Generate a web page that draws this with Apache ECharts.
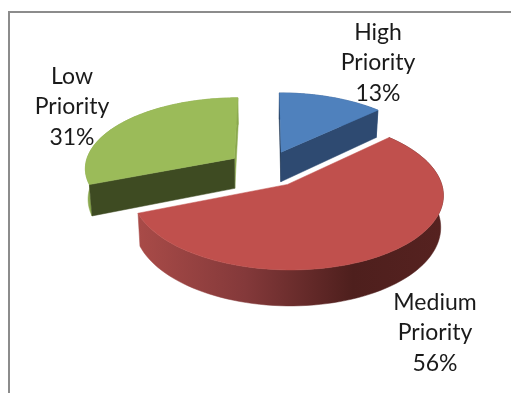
<!DOCTYPE html>
<html>
<head>
<meta charset="utf-8">
<style>html,body{margin:0;padding:0;background:#fff}#chart{width:511px;height:393px}</style>
<script src="https://cdn.jsdelivr.net/npm/echarts@6/dist/echarts.min.js"></script>
</head>
<body>
<div id="chart"></div>
<script>
// Task priority split, drawn as an exploded 3D pie
var categories = ['High Priority', 'Medium Priority', 'Low Priority'];
var shares = [13, 56, 31];
var topColors = ['#4f81bd', '#c0504d', '#9bbb59'];
var cutColors = ['#2e4a71', '#7a3230', '#3e4b22'];
var labelAnchors = [[378, 63], [435, 333], [72, 107]];

// Projection of the tilted disc onto the canvas
var view = { cx: 266, cy: 168.5, rx: 150, ry: 70.5, persp: 0.125, depth: 30.5, pull: 0.26, taper: 0.985 };

function project(X, Z, lower) {
  var d = 1 + view.persp * Z;
  return [
    view.cx + (view.rx * X / d) * (lower ? view.taper : 1),
    view.cy - view.ry * Z / d + (lower ? view.depth / d : 0)
  ];
}

function sliceGeometry(index) {
  var total = shares.reduce(function (a, b) { return a + b; }, 0);
  var before = shares.slice(0, index).reduce(function (a, b) { return a + b; }, 0);
  var start = before / total * Math.PI * 2;
  var end = (before + shares[index]) / total * Math.PI * 2;
  var mid = (start + end) / 2;
  var ox = Math.sin(mid) * view.pull, oz = Math.cos(mid) * view.pull;
  function rim(theta, lower) {
    return project(ox + Math.sin(theta), oz + Math.cos(theta), lower);
  }
  var upper = [], under = [], steps = 90;
  for (var i = 0; i <= steps; i++) {
    var t = start + (end - start) * i / steps;
    upper.push(rim(t, false));
    under.push(rim(t, true));
  }
  return {
    apexTop: project(ox, oz, false),
    apexLow: project(ox, oz, true),
    upper: upper,
    under: under
  };
}

function poly(points, fill) {
  return {
    type: 'polygon',
    shape: { points: points },
    style: { fill: fill, stroke: fill, lineWidth: 0.5 }
  };
}

function rimFill(index) {
  if (index === 1) {
    return {
      type: 'linear', global: true, x: 137, y: 0, x2: 445, y2: 0,
      colorStops: [
        { offset: 0, color: '#a94b48' },
        { offset: 0.35, color: '#84393a' },
        { offset: 0.7, color: '#4e1f1d' },
        { offset: 1, color: '#562220' }
      ]
    };
  }
  return index === 0 ? '#3a5f8f' : '#8aa84e';
}

function renderSlice(params, api) {
  var i = params.dataIndex;
  var g = sliceGeometry(i);
  var last = g.upper.length - 1;
  var children = [poly(g.upper.concat(g.under.slice().reverse()), rimFill(i))];
  // only the radial faces turned towards the viewer are drawn
  if (i === 0) {
    children.push(poly([g.apexTop, g.upper[0], g.under[0], g.apexLow], '#1f3550'));
    children.push(poly([g.apexTop, g.upper[last], g.under[last], g.apexLow], cutColors[0]));
  } else if (i === 2) {
    children.push(poly([g.apexTop, g.upper[last], g.under[last], g.apexLow], '#8aa84e'));
    children.push(poly([g.apexTop, g.upper[0], g.under[0], g.apexLow], cutColors[2]));
  }
  children.push(poly([g.apexTop].concat(g.upper), topColors[i]));
  var words = categories[i].split(' ');
  children.push({
    type: 'text',
    x: labelAnchors[i][0],
    y: labelAnchors[i][1],
    style: {
      text: words[0] + '\n' + words[1] + '\n' + api.value(1) + '%',
      font: '23px Lato',
      lineHeight: 30.5,
      fill: '#1a1a1a',
      align: 'center',
      verticalAlign: 'middle'
    }
  });
  return { type: 'group', children: children };
}

var chart = echarts.init(document.getElementById('chart'), null, { renderer: 'canvas' });
chart.setOption({
  animation: false,
  backgroundColor: '#ffffff',
  graphic: [
    // frame: only the top and left edges fall inside the canvas
    { type: 'rect', shape: { x: 9, y: 12, width: 600, height: 500 }, style: { fill: 'none', stroke: '#8c8c8c', lineWidth: 2 }, z: 0 }
  ],
  series: [{
    type: 'custom',
    coordinateSystem: 'none',
    renderItem: renderSlice,
    data: shares.map(function (v, i) { return [i, v]; }),
    z: 2
  }]
});
</script>
</body>
</html>
